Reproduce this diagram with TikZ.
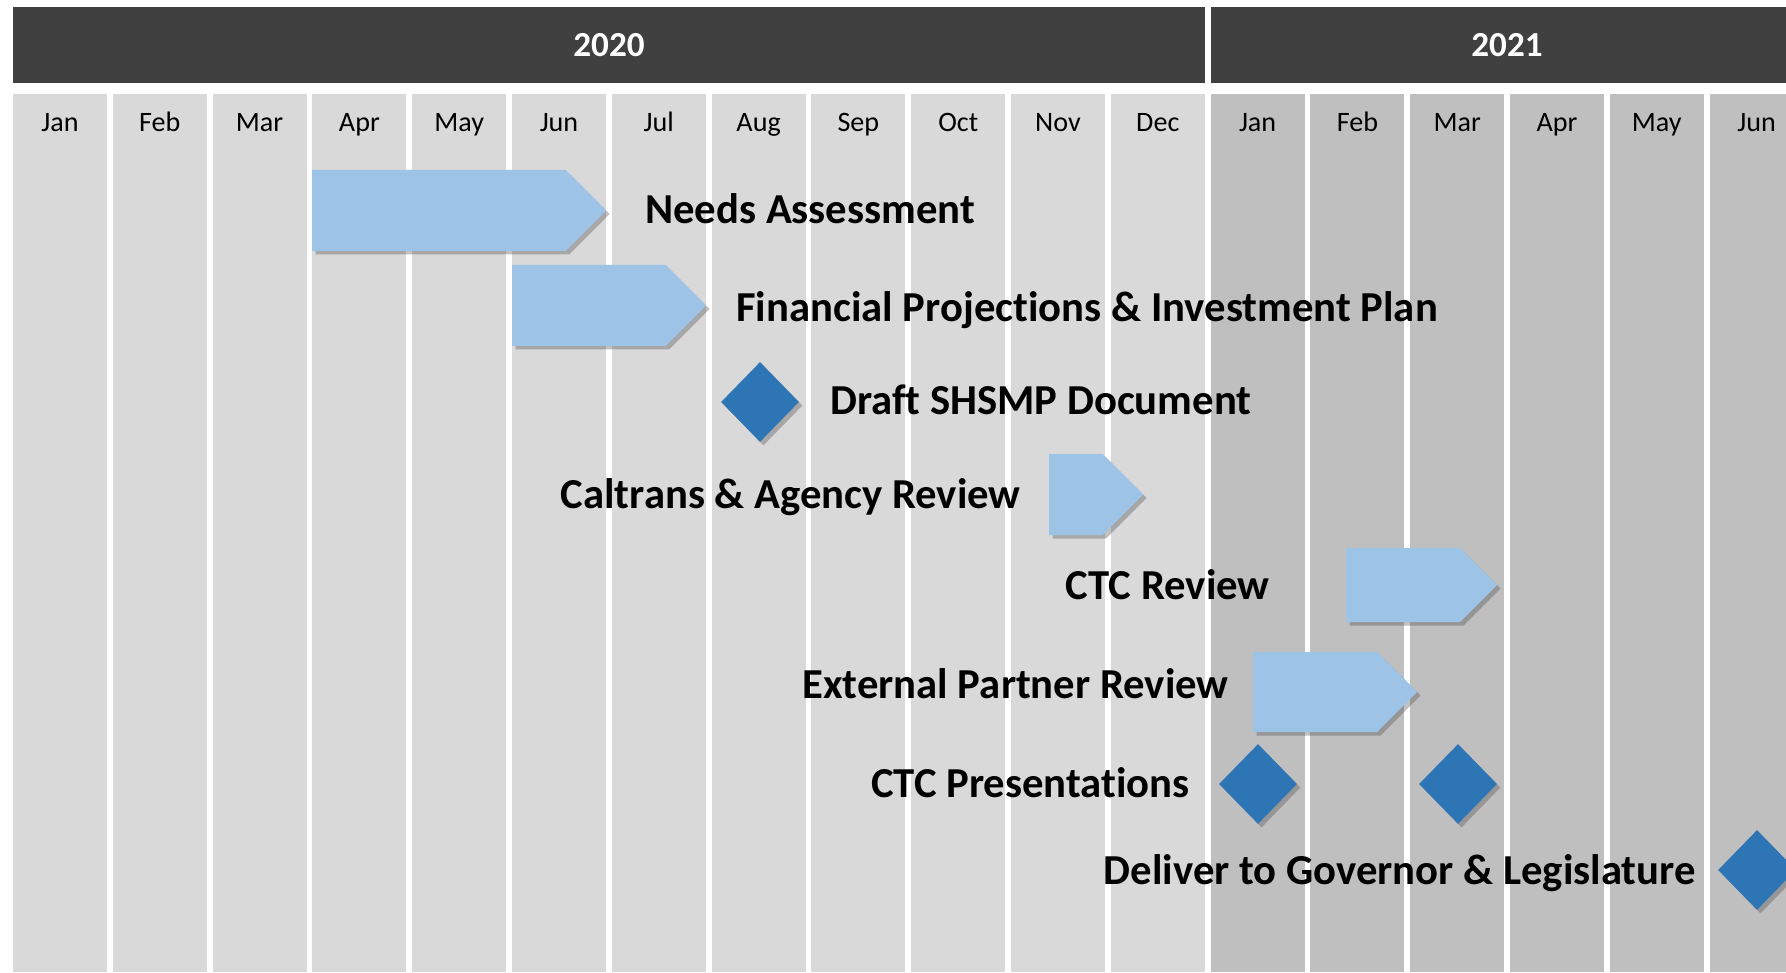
\documentclass[tikz,border=0pt]{standalone}
\usepackage{fontspec}
\setmainfont{Carlito}[Ligatures=NoCommon]
\usetikzlibrary{shapes.geometric,shadows}

\definecolor{yeargray}{HTML}{404040}
\definecolor{month20}{HTML}{D9D9D9}
\definecolor{month21}{HTML}{BFBFBF}
\definecolor{barblue}{HTML}{9DC3E6}
\definecolor{msblue}{HTML}{2E75B6}

\tikzset{
  softshadow/.style={drop shadow={shadow xshift=0.07cm, shadow yshift=-0.07cm, opacity=0.35, fill=black!70}},
  taskbar/.style={fill=barblue, softshadow},
  milestone/.style={diamond, fill=msblue, inner sep=0pt, minimum width=1.56cm, minimum height=1.6cm, softshadow},
  tasklabel/.style={font=\bfseries\fontsize{24.3}{28}\selectfont, inner sep=0pt},
  monthlabel/.style={font=\fontsize{16}{19}\selectfont, inner sep=0pt, anchor=base},
  yearlabel/.style={font=\bfseries\fontsize{20}{24}\selectfont, text=white, inner sep=0pt}
}

% bar: left, tip, top, bottom
\newcommand{\ganttbar}[4]{%
  \fill[taskbar] (#1,#3) -- ({#2-(#4-#3)/2},#3) -- (#2,{(#3+#4)/2})
    -- ({#2-(#4-#3)/2},#4) -- (#1,#4) -- cycle;}

\begin{document}
\begin{tikzpicture}[x=0.02cm, y=-0.02cm]
\useasboundingbox (0,0) rectangle (1786,973);
\clip (0,0) rectangle (1786,973);
% year bars
\fill[yeargray] (13,7) rectangle (1205,83);
\fill[yeargray] (1211,7) rectangle (1900,83);
\node[yearlabel] (y2020) at (609,45) {2020};
\node[yearlabel] (y2021) at (1507,45) {2021};
% month columns
\foreach \m [count=\i from 0] in {Jan,Feb,Mar,Apr,May,Jun,Jul,Aug,Sep,Oct,Nov,Dec} {
  \fill[month20] ({13+99.8*\i},94) rectangle ({107+99.8*\i},972);
  \node[monthlabel] (m20-\i) at ({60+99.8*\i},132) {\m};
}
\foreach \m [count=\i from 12] in {Jan,Feb,Mar,Apr,May,Jun} {
  \fill[month21] ({13+99.8*\i},94) rectangle ({107+99.8*\i},972);
  \node[monthlabel] (m21-\i) at ({60+99.8*\i},132) {\m};
}
% tasks
\ganttbar{312}{606}{170}{251}
\node[tasklabel, anchor=base west] (needs) at (645,224) {Needs Assessment};
\ganttbar{512}{706}{265}{346}
\node[tasklabel, anchor=base west] (finance) at (736,322) {Financial Projections \& Investment Plan};
\node[milestone] (draft) at (760,402) {};
\node[tasklabel, anchor=base west] (draftlbl) at (830,415) {Draft SHSMP Document};
\ganttbar{1049}{1143}{454}{535}
\node[tasklabel, anchor=base east] (caltrans) at (1021,508) {Caltrans \& Agency Review};
\ganttbar{1346}{1497}{548}{622}
\node[tasklabel, anchor=base east] (ctcrev) at (1270,599) {CTC Review};
\ganttbar{1253}{1417}{652}{732}
\node[tasklabel, anchor=base east] (extrev) at (1229,698) {External Partner Review};
\node[milestone] (pres1) at (1258,784) {};
\node[milestone] (pres2) at (1458,784) {};
\node[tasklabel, anchor=base east] (ctcpres) at (1190,797) {CTC Presentations};
\node[milestone] (deliver) at (1757,870) {};
\node[tasklabel, anchor=base east] (deliverlbl) at (1696,884) {Deliver to Governor \& Legislature};
\end{tikzpicture}
\end{document}
